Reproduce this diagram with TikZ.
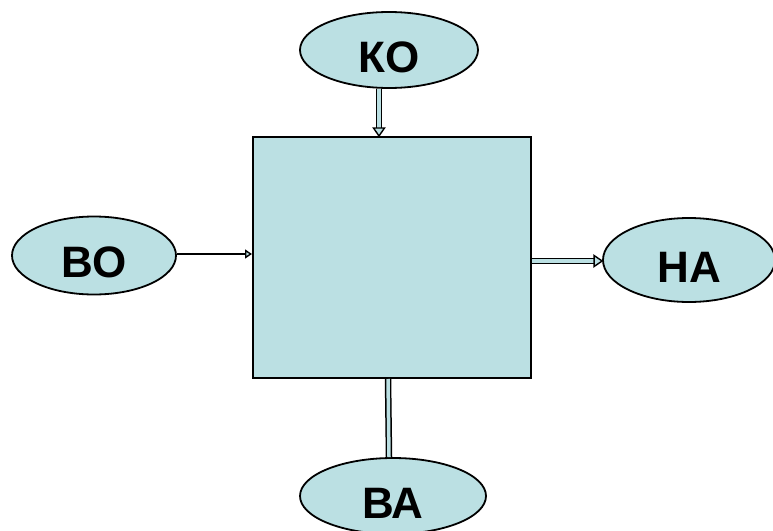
\documentclass[tikz,border=0pt]{standalone}
\usepackage{fontspec}
\setmainfont{Liberation Sans}
\usetikzlibrary{shapes.geometric,arrows.meta,calc}
\definecolor{bluefill}{HTML}{BBE0E3}
\begin{document}
\begin{tikzpicture}[x=1pt,y=-1pt,
  oval/.style={ellipse,draw=black,line width=1.8pt,fill=bluefill,inner sep=0pt,
    text height=44pt,text depth=0pt,
    font=\fontsize{44}{44}\selectfont\bfseries},
  dbl/.style={line width=1.5pt,double=bluefill,double distance=3.5pt},
  sgl/.style={line width=2.8pt,-{Triangle[open,length=7pt,width=9pt,fill=bluefill,line width=1.4pt]}},
  tipd/.style={line width=1.4pt,fill=bluefill}]
\useasboundingbox (0,0) rectangle (773,530);
\node[draw=black,line width=2pt,fill=bluefill,minimum width=278pt,minimum height=241pt,inner sep=0pt] (box) at (392,257.5) {};
\node[oval,minimum width=178pt,minimum height=76pt] (ko) at (389,50) {КО};
\node[oval,minimum width=164pt,minimum height=78pt] (vo) at (94,255.5) {ВО};
\node[oval,minimum width=172pt,minimum height=84pt] (na) at (689,260) {НА};
\node[oval,minimum width=186pt,minimum height=76pt] (va) at (393,496) {ВА};
% connectors
\draw[dbl] ([xshift=-10pt]ko.south) -- ([xshift=-10pt,yshift=8pt]ko.south |- box.north);
\draw[tipd] ([xshift=-10pt]ko.south |- box.north) -- ++(-5.5,-8) -- ++(11,0) -- cycle;
\draw[sgl] (vo.east |- 0,254) -- (box.west |- 0,254);
\draw[dbl] (box.east |- 0,261) -- ([xshift=-8pt]na.west |- 0,261);
\draw[tipd] (na.west |- 0,261) -- ++(-8,-5.5) -- ++(0,11) -- cycle;
\draw[dbl] ([xshift=-4pt]box.south) -- ([xshift=-4pt]va.north);
\end{tikzpicture}
\end{document}
